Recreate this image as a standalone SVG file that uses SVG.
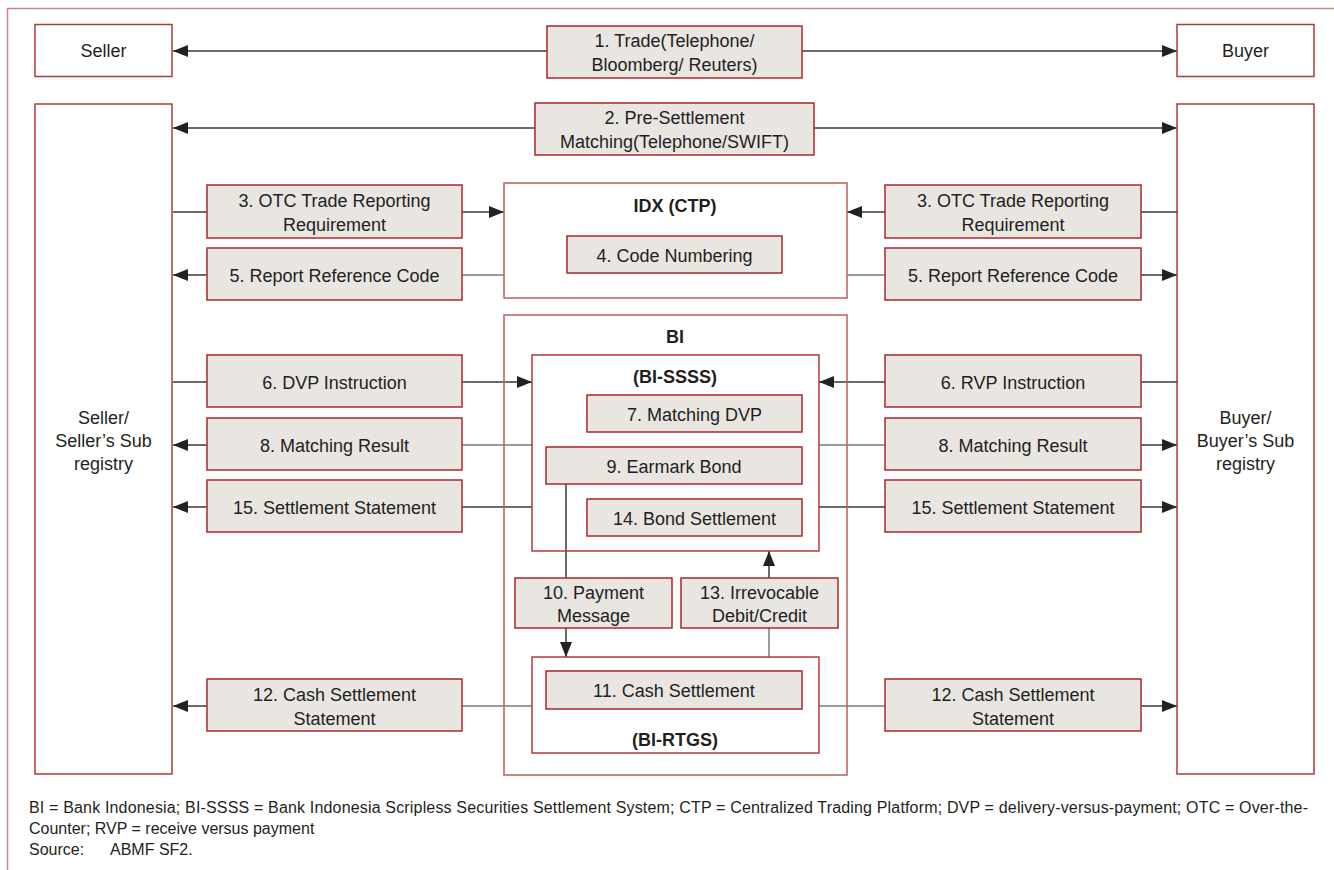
<svg xmlns="http://www.w3.org/2000/svg" width="1334" height="870" viewBox="0 0 1334 870">
<defs>
<marker id="ah" markerUnits="userSpaceOnUse" markerWidth="15" markerHeight="12" refX="15" refY="6" orient="auto">
<path d="M0,0 L15,6 L0,12 z" fill="#222"/>
</marker>
<style>
text{font-family:"Liberation Sans",Arial,sans-serif;fill:#231f20;font-size:18px;text-anchor:middle}
.frame{fill:none;stroke:#cf8585;stroke-width:1.5}
.ent{fill:none;stroke:#b5383a;stroke-width:1.5}
.sys{fill:none;stroke:#b96061;stroke-width:1.5}
.lbl{fill:#e9e5e1;stroke:#a8282b;stroke-width:1.5}
.b{font-weight:bold}
.ln{fill:none;stroke:#3a3a3a;stroke-width:1.5}
.lg{fill:none;stroke:#7a7a7a;stroke-width:1.5}
.arr{marker-end:url(#ah)}
.fn{font-size:16px;text-anchor:start}
</style>
</defs>
<rect width="1334" height="870" fill="#fff"/>
<path class="frame" d="M7.5,870 L7.5,8.5 L1334,8.5"/>

<g id="connectors">
<!-- 1 trade -->
<line class="ln arr" x1="547" y1="51" x2="173" y2="51"/>
<line class="ln arr" x1="802" y1="51" x2="1177" y2="51"/>
<!-- 2 pre-settlement -->
<line class="ln arr" x1="535" y1="128" x2="173" y2="128"/>
<line class="ln arr" x1="814" y1="128" x2="1177" y2="128"/>
<!-- 3 OTC -->
<line class="ln" x1="173" y1="212" x2="207" y2="212"/>
<line class="ln arr" x1="462" y1="212" x2="504" y2="212"/>
<line class="ln" x1="1178" y1="212" x2="1141" y2="212"/>
<line class="ln arr" x1="885" y1="212" x2="847" y2="212"/>
<!-- 5 report ref -->
<line class="lg" x1="504" y1="275" x2="462" y2="275"/>
<line class="ln arr" x1="207" y1="275" x2="173" y2="275"/>
<line class="lg" x1="847" y1="275" x2="885" y2="275"/>
<line class="ln arr" x1="1141" y1="275" x2="1177" y2="275"/>
<!-- 6 DVP/RVP -->
<line class="ln" x1="173" y1="382" x2="207" y2="382"/>
<line class="ln arr" x1="462" y1="382" x2="532" y2="382"/>
<line class="ln" x1="1178" y1="382" x2="1141" y2="382"/>
<line class="ln arr" x1="885" y1="382" x2="819" y2="382"/>
<!-- 8 matching result -->
<line class="lg" x1="532" y1="445" x2="462" y2="445"/>
<line class="ln arr" x1="207" y1="445" x2="173" y2="445"/>
<line class="lg" x1="819" y1="445" x2="885" y2="445"/>
<line class="ln arr" x1="1141" y1="445" x2="1177" y2="445"/>
<!-- 15 settlement statement -->
<line class="ln" x1="532" y1="507" x2="462" y2="507"/>
<line class="ln arr" x1="207" y1="507" x2="173" y2="507"/>
<line class="ln" x1="819" y1="507" x2="885" y2="507"/>
<line class="ln arr" x1="1141" y1="507" x2="1177" y2="507"/>
<!-- 12 cash settlement statement -->
<line class="lg" x1="532" y1="706" x2="462" y2="706"/>
<line class="ln arr" x1="207" y1="706" x2="173" y2="706"/>
<line class="lg" x1="819" y1="706" x2="885" y2="706"/>
<line class="ln arr" x1="1141" y1="706" x2="1177" y2="706"/>
<!-- 9 -> 10 -> RTGS -->
<line class="ln arr" x1="566" y1="484" x2="566" y2="657"/>
<!-- RTGS -> 13 -> BI-SSSS -->
<line class="lg" x1="769" y1="657" x2="769" y2="628"/>
<line class="ln arr" x1="769" y1="578" x2="769" y2="551"/>
</g>

<g id="seller">
<rect class="ent" x="35" y="24.5" width="137" height="52"/>
<text x="103.5" y="57">Seller</text>
</g>
<g id="buyer">
<rect class="ent" x="1177" y="24.5" width="137" height="52"/>
<text x="1245.5" y="57">Buyer</text>
</g>
<g id="seller-sub">
<rect class="ent" x="35" y="104" width="137" height="670"/>
<text x="103.5" y="424">Seller/</text>
<text x="103.5" y="447">Seller’s Sub</text>
<text x="103.5" y="470">registry</text>
</g>
<g id="buyer-sub">
<rect class="ent" x="1177" y="104" width="137" height="670"/>
<text x="1245.5" y="424">Buyer/</text>
<text x="1245.5" y="447">Buyer’s Sub</text>
<text x="1245.5" y="470">registry</text>
</g>

<g id="trade">
<rect class="lbl" x="547" y="26" width="255" height="52"/>
<text x="674.5" y="47">1. Trade(Telephone/</text>
<text x="674.5" y="71">Bloomberg/ Reuters)</text>
</g>
<g id="pre-settlement">
<rect class="lbl" x="535" y="103" width="279" height="52"/>
<text x="674.5" y="124">2. Pre-Settlement</text>
<text x="674.5" y="148">Matching(Telephone/SWIFT)</text>
</g>

<g id="idx">
<rect class="sys" x="504" y="183" width="343" height="115"/>
<text class="b" x="675" y="212">IDX (CTP)</text>
</g>
<g id="code-numbering">
<rect class="lbl" x="567" y="236" width="215" height="37"/>
<text x="674.5" y="262">4. Code Numbering</text>
</g>

<g id="otc-left">
<rect class="lbl" x="207" y="185" width="255" height="53"/>
<text x="334.5" y="207">3. OTC Trade Reporting</text>
<text x="334.5" y="231">Requirement</text>
</g>
<g id="otc-right">
<rect class="lbl" x="885" y="185" width="256" height="53"/>
<text x="1013" y="207">3. OTC Trade Reporting</text>
<text x="1013" y="231">Requirement</text>
</g>
<g id="ref-left">
<rect class="lbl" x="207" y="248" width="255" height="52"/>
<text x="334.5" y="282">5. Report Reference Code</text>
</g>
<g id="ref-right">
<rect class="lbl" x="885" y="248" width="256" height="52"/>
<text x="1013" y="282">5. Report Reference Code</text>
</g>

<g id="bi">
<rect class="sys" x="504" y="315" width="343" height="460"/>
<text class="b" x="675" y="343">BI</text>
</g>
<g id="bi-ssss">
<rect class="ent" x="532" y="355" width="287" height="196"/>
<text class="b" x="675" y="383">(BI-SSSS)</text>
</g>
<g id="matching-dvp">
<rect class="lbl" x="587" y="395" width="215" height="37"/>
<text x="694.5" y="421">7. Matching DVP</text>
</g>
<g id="earmark">
<rect class="lbl" x="546" y="447" width="256" height="37"/>
<text x="674" y="473">9. Earmark Bond</text>
</g>
<g id="bond-settlement">
<rect class="lbl" x="587" y="499" width="215" height="37"/>
<text x="694.5" y="525">14. Bond Settlement</text>
</g>

<g id="dvp-left">
<rect class="lbl" x="207" y="355" width="255" height="52"/>
<text x="334.5" y="389">6. DVP Instruction</text>
</g>
<g id="rvp-right">
<rect class="lbl" x="885" y="355" width="256" height="52"/>
<text x="1013" y="389">6. RVP Instruction</text>
</g>
<g id="match-left">
<rect class="lbl" x="207" y="418" width="255" height="52"/>
<text x="334.5" y="452">8. Matching Result</text>
</g>
<g id="match-right">
<rect class="lbl" x="885" y="418" width="256" height="52"/>
<text x="1013" y="452">8. Matching Result</text>
</g>
<g id="stmt-left">
<rect class="lbl" x="207" y="480" width="255" height="52"/>
<text x="334.5" y="514">15. Settlement Statement</text>
</g>
<g id="stmt-right">
<rect class="lbl" x="885" y="480" width="256" height="52"/>
<text x="1013" y="514">15. Settlement Statement</text>
</g>

<g id="payment-message">
<rect class="lbl" x="515" y="578" width="157" height="50"/>
<text x="593.5" y="599">10. Payment</text>
<text x="593.5" y="622">Message</text>
</g>
<g id="irrevocable">
<rect class="lbl" x="681" y="578" width="157" height="50"/>
<text x="759.5" y="599">13. Irrevocable</text>
<text x="759.5" y="622">Debit/Credit</text>
</g>

<g id="bi-rtgs">
<rect class="ent" x="532" y="657" width="287" height="96"/>
<text class="b" x="675" y="746">(BI-RTGS)</text>
</g>
<g id="cash-settlement">
<rect class="lbl" x="546" y="671" width="256" height="38"/>
<text x="674" y="697">11. Cash Settlement</text>
</g>
<g id="cash-left">
<rect class="lbl" x="207" y="679" width="255" height="52"/>
<text x="334.5" y="701">12. Cash Settlement</text>
<text x="334.5" y="725">Statement</text>
</g>
<g id="cash-right">
<rect class="lbl" x="885" y="679" width="256" height="52"/>
<text x="1013" y="701">12. Cash Settlement</text>
<text x="1013" y="725">Statement</text>
</g>

<g id="notes">
<text class="fn" x="29" y="813" textLength="1279" lengthAdjust="spacing">BI = Bank Indonesia; BI-SSSS = Bank Indonesia Scripless Securities Settlement System; CTP = Centralized Trading Platform; DVP = delivery-versus-payment; OTC = Over-the-</text>
<text class="fn" x="29" y="834">Counter; RVP = receive versus payment</text>
<text class="fn" x="29" y="855">Source:</text>
<text class="fn" x="110" y="855">ABMF SF2.</text>
</g>
</svg>
